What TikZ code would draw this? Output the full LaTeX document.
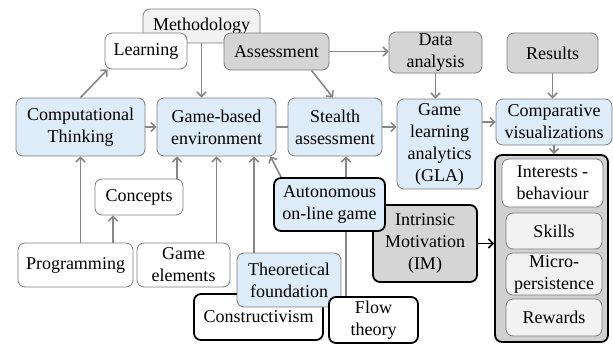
\documentclass[tikz,border=0pt]{standalone}
\usepackage{fontspec}
\setmainfont{Liberation Serif}
\newfontfamily\tnr{Liberation Serif}
\usetikzlibrary{arrows.meta,calc}
\pgfdeclarelayer{bg}
\pgfsetlayers{bg,main}
\definecolor{lblue}{RGB}{222,235,248}
\definecolor{dgray}{RGB}{213,213,213}
\definecolor{lgray}{RGB}{242,242,242}
\definecolor{bgray}{RGB}{125,125,125}
\definecolor{agray}{RGB}{135,135,135}
\definecolor{cgray}{RGB}{208,208,208}
\begin{document}
\begin{tikzpicture}[x=1pt,y=-1pt,
  font=\tnr\fontsize{18}{22}\selectfont,
  box/.style={draw=bgray, line width=0.8pt, rounded corners=7pt, align=center, inner sep=1pt, fill=white},
  bluebox/.style={box, fill=lblue},
  darkbox/.style={box, fill=dgray},
  lightbox/.style={box, fill=lgray},
  blackedge/.style={draw=black, line width=1.8pt},
  arr/.style={draw=agray, line width=1.6pt, -{Straight Barb[length=4.5pt,width=9pt]}},
  plain/.style={draw=agray, line width=1.6pt},
  barr/.style={draw=black, line width=1.6pt, -{Straight Barb[length=4.5pt,width=9pt]}},
  sz/.style 2 args={minimum width=#1pt, minimum height=#2pt}
]
\useasboundingbox (0,0) rectangle (613,343);

% top row
\node[lightbox, sz={117}{34}] (meth) at (201.5,26) {Methodology};
\node[box, sz={82}{36}] (learn) at (146,51) {Learning};
\node[darkbox, sz={105}{37}] (assess) at (276.5,51.5) {Assessment};
\node[darkbox, sz={93}{41}] (data) at (435.5,52.5) {Data\\analysis};
\node[darkbox, sz={91}{40}] (results) at (552.5,53) {Results};

% second row
\node[bluebox, sz={129}{58}] (ct) at (80.5,127) {Computational\\Thinking};
\node[bluebox, sz={119}{58}] (gbe) at (216.5,127) {Game-based\\environment};
\node[bluebox, sz={94}{58}] (stealth) at (335,127) {Stealth\\assessment};
\node[bluebox, sz={85}{90}] (gla) at (439.5,144) {Game\\learning\\analytics\\(GLA)};
\node[bluebox, sz={116}{46}] (comp) at (554,122) {Comparative\\visualizations};

% lower left
\node[box, sz={88}{36}] (concepts) at (139,197) {Concepts};
\node[box, sz={115}{44}] (prog) at (75.5,265) {Programming};
\node[box, sz={93}{44}] (gel) at (183.5,265) {Game\\elements};

% bottom centre
\node[box, blackedge, sz={129}{46}] (cons) at (258.5,317) {Constructivism};
\node[bluebox, sz={104}{54}] (theo) at (289,280) {Theoretical\\foundation};
\node[box, blackedge, sz={89}{46}] (flow) at (373.5,320) {Flow\\theory};
\node[darkbox, blackedge, sz={104}{77}] (im) at (425,243.5) {Intrinsic\\Motivation\\(IM)};

% container on the right
\node[box, blackedge, fill=cgray, sz={113}{187}] (cont) at (551.5,248.5) {};
\node[box, sz={101}{48}] (int) at (552.5,183) {Interests -\\behaviour};
\node[lightbox, sz={96}{36}] (skills) at (554,231) {Skills};
\node[lightbox, sz={96}{42}] (micro) at (554,274) {Micro-\\persistence};
\node[lightbox, sz={96}{37}] (rewards) at (554,317.5) {Rewards};

% connector passing behind the Autonomous box
\draw[arr] ([xshift=-27.5pt]flow.north) -- ([xshift=-27.5pt]flow.north |- stealth.south);

\node[bluebox, blackedge, sz={111}{53}] (auto) at (329.5,204.5) {Autonomous\\on-line game};

\begin{pgfonlayer}{bg}
\draw[arr] (ct.north) -- ([xshift=3pt]learn.south west);
\draw[arr] (meth.south) -- (meth.south |- gbe.north);
\draw[arr] (ct.east) -- (gbe.west);
\draw[plain] (gbe.east) -- (stealth.west);
\draw[arr] (assess.east) -- (assess.east -| data.west);
\draw[arr] ([xshift=35pt]assess.south) -- ([xshift=-2pt]stealth.north);
\draw[arr] (data.south) -- (data.south |- gla.north);
\draw[arr] (results.south) -- (results.south |- comp.north);
\draw[arr] (stealth.east) -- (stealth.east -| gla.west);
\draw[arr] (comp.west -| gla.east) -- (comp.west);
\draw[arr] (comp.south) -- (comp.south |- cont.north);
\draw[arr] (prog.north -| ct.south) -- (ct.south);
\draw[arr] ([xshift=37.5pt]prog.north) -- ([xshift=37.5pt]prog.north |- concepts.south);
\draw[arr] ([xshift=38pt]concepts.north) -- ([xshift=38pt]concepts.north |- gbe.south);
\draw[arr] (gel.north -| gbe.south) -- (gbe.south);
\draw[arr] ([xshift=-35pt]theo.north) -- ([xshift=-35pt]theo.north |- gbe.south);
\draw[arr] ([xshift=8pt]auto.north west) -- ([xshift=-6pt]gbe.south east);
\draw[barr] (im.east) -- (im.east -| cont.west);
\end{pgfonlayer}
\end{tikzpicture}
\end{document}
